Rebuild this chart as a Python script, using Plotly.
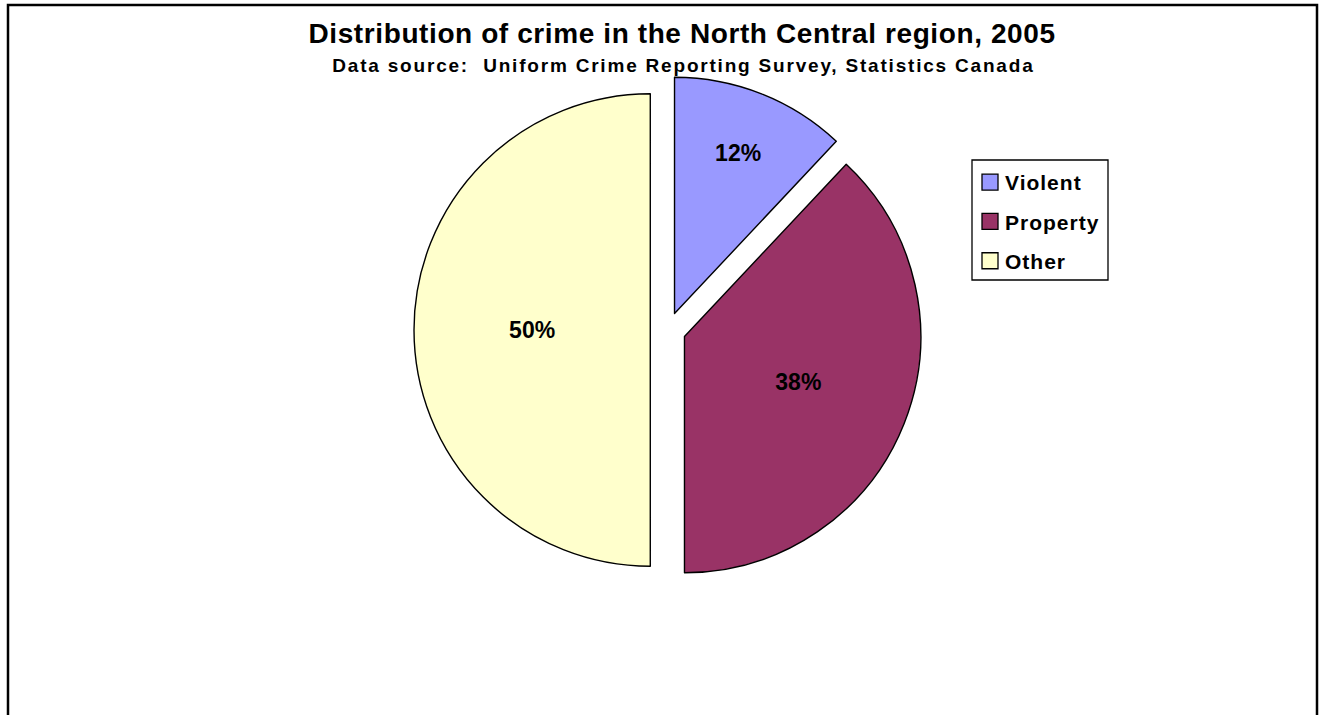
import plotly.graph_objects as go

categories = ["Violent", "Property", "Other"]
shares = [12, 38, 50]
colors = ["#9999FF", "#993366", "#FFFFCC"]

title_text = "Distribution of crime in the North Central region, 2005"
subtitle_text = "Data source:  Uniform Crime Reporting Survey, Statistics Canada"

W, H = 1324, 715
FONT = "Liberation Sans, Arial, sans-serif"


def px_x(v):
    return v / W


def px_y(v):
    return 1 - v / H


fig = go.Figure()

fig.add_trace(
    go.Pie(
        labels=categories,
        values=shares,
        sort=False,
        direction="clockwise",
        rotation=0,
        pull=[0.075, 0.075, 0.075],
        marker=dict(colors=colors, line=dict(color="black", width=1.4)),
        textinfo="percent",
        texttemplate="%{percent:.0%}",
        textposition="inside",
        insidetextorientation="horizontal",
        textfont=dict(family=FONT, size=23, color="black", weight="bold"),
        domain=dict(x=[px_x(414), px_x(922)], y=[px_y(584), px_y(76)]),
        hoverinfo="label+percent",
        showlegend=False,
    )
)

# legend entries (square swatches) matching the slices
for name, col in zip(categories, colors):
    fig.add_trace(
        go.Scatter(
            x=[None], y=[None], mode="markers", name=name,
            legendgroup=name,
            marker=dict(symbol="square", size=18, color=col,
                        line=dict(color="black", width=1.3)),
            hoverinfo="skip",
        )
    )

fig.update_layout(
    width=W,
    height=H,
    margin=dict(l=0, r=0, t=0, b=0),
    paper_bgcolor="white",
    plot_bgcolor="white",
    xaxis=dict(visible=False),
    yaxis=dict(visible=False),
    showlegend=True,
    legend=dict(
        x=px_x(970),
        y=px_y(162),
        xanchor="left",
        yanchor="top",
        borderwidth=0,
        bgcolor="rgba(0,0,0,0)",
        font=dict(family=FONT, size=21, color="black", weight="bold"),
        itemsizing="trace",
        itemwidth=30,
        tracegroupgap=9,
    ),
    annotations=[
        dict(
            text=title_text,
            x=px_x(681.5), y=px_y(33), xref="paper", yref="paper",
            xanchor="center", yanchor="middle", showarrow=False,
            font=dict(family=FONT, size=28, color="black", weight="bold"),
        ),
        dict(
            text=subtitle_text,
            x=px_x(683), y=px_y(65), xref="paper", yref="paper",
            xanchor="center", yanchor="middle", showarrow=False,
            font=dict(family=FONT, size=19, color="black", weight="bold"),
        ),
    ],
    shapes=[
        # outer chart frame
        dict(
            type="rect", xref="paper", yref="paper",
            x0=px_x(8), x1=px_x(1317), y0=-0.02, y1=px_y(5),
            line=dict(color="black", width=2.5),
            fillcolor="rgba(0,0,0,0)", layer="above",
        ),
        # legend frame
        dict(
            type="rect", xref="paper", yref="paper",
            x0=px_x(972), x1=px_x(1108), y0=px_y(280), y1=px_y(160),
            line=dict(color="black", width=1.3),
            fillcolor="rgba(0,0,0,0)", layer="above",
        ),
    ],
)

post = """
document.body.style.margin = '0px';
document.body.style.overflow = 'hidden';
var t = document.querySelectorAll('.annotation-text');
if (t.length > 0) { t[0].style.letterSpacing = '0.6px'; }
if (t.length > 1) { t[1].style.letterSpacing = '1.8px'; }
var lt = document.querySelectorAll('.legendtext');
for (var i = 0; i < lt.length; i++) {
  lt[i].style.letterSpacing = '1px';
  lt[i].setAttribute('x', 35);
}
"""

fig.write_html("out.html", post_script=post, config={"displayModeBar": False})
